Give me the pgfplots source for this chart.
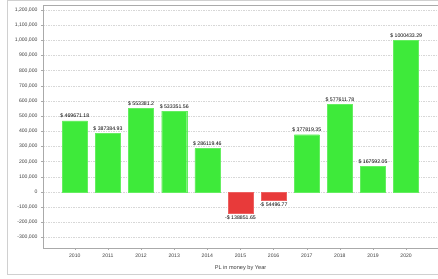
\documentclass[border=0pt]{standalone}
\usepackage{fontspec}
\setmainfont{Liberation Sans}
\usepackage{pgfplots}
\pgfplotsset{compat=1.18}
\definecolor{bargreen}{RGB}{62,234,58}
\definecolor{barred}{RGB}{232,58,58}
\definecolor{gridgray}{RGB}{215,215,215}
\definecolor{axisgray}{RGB}{170,170,170}
\definecolor{framegray}{RGB}{208,208,208}
\definecolor{labgray}{RGB}{60,60,60}
\begin{document}
\begin{tikzpicture}[x=1pt,y=1pt]
\useasboundingbox (0,0) rectangle (438,278);
\begin{scope}
\clip (0,0) rectangle (438,278);
\draw[framegray, line width=1.3pt] (7.5,3.5) rectangle (460,277.5);
\begin{axis}[
  at={(43pt,30pt)}, anchor=south west,
  scale only axis, width=395pt, height=243pt,
  xmin=2009.04, xmax=2020.96,
  ymin=-369000, ymax=1233000,
  xtick={2010,...,2020},
  xticklabel style={/pgf/number format/1000 sep={}},
  ytick={-300000,-200000,...,1200000},
  yticklabel style={/pgf/number format/fixed, /pgf/number format/1000 sep={,}},
  /pgf/number format/assume math mode=true,
  scaled y ticks=false,
  ticklabel style={font=\fontsize{5.1}{6}\selectfont, text=labgray},
  tick style={axisgray, line width=0.4pt},
  major tick length=2pt,
  tick align=outside,
  xtick pos=bottom, ytick pos=left,
  ymajorgrids,
  grid style={gridgray, dash pattern=on 1.5pt off 1pt, line width=0.4pt},
  axis line style={axisgray, line width=0.5pt},
  xlabel={PL in money by Year},
  xlabel style={font=\fontsize{5.6}{6.5}\selectfont, text=labgray, yshift=-1.5pt},
  ybar, bar width=25pt, bar shift=0pt,
  every node near coord/.append style={font=\fontsize{5.2}{6}\selectfont, text=black},
  clip=false,
]
\addplot[fill=bargreen, draw=bargreen!80!white, point meta=explicit symbolic,
  nodes near coords={\$ \pgfplotspointmeta},
  every node near coord/.append style={anchor=south, yshift=-1pt}]
  table[meta=lab] {
x y lab
2010 469671.18 469671.18
2011 387384.93 387384.93
2012 553381.2 553381.2
2013 533351.56 533351.56
2014 286119.46 286119.46
2017 377819.35 377819.35
2018 577611.78 577611.78
2019 167592.05 167592.05
2020 1000433.29 1000433.29
};
\addplot[fill=barred, draw=barred!80!white, point meta=explicit symbolic,
  nodes near coords={-\$ \pgfplotspointmeta},
  every node near coord/.append style={anchor=north, yshift=1pt}]
  table[meta=lab] {
x y lab
2015 -138851.65 138851.65
2016 -54496.77 54496.77
};
\end{axis}
\end{scope}
\end{tikzpicture}
\end{document}
